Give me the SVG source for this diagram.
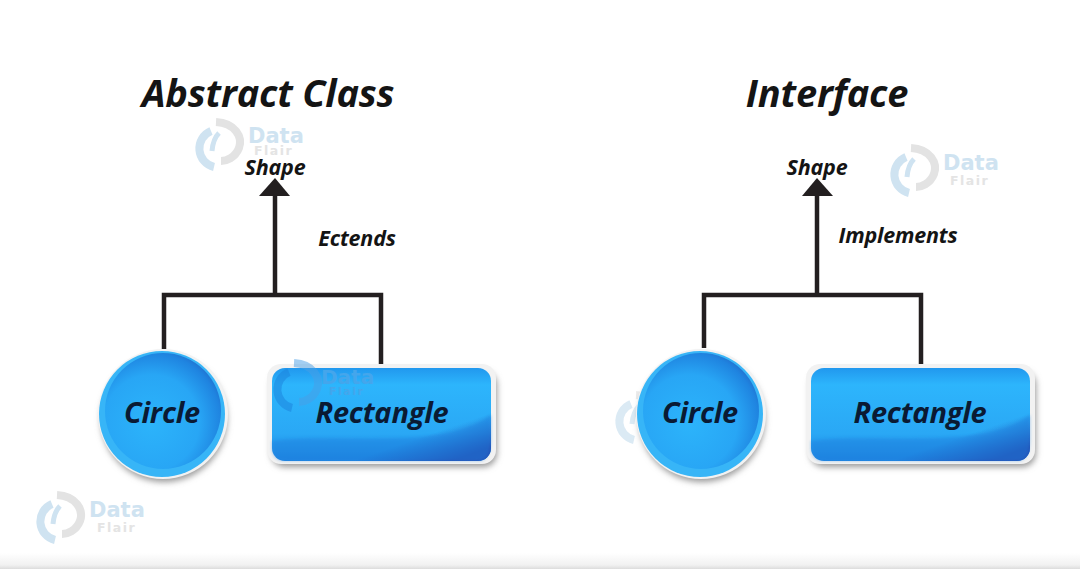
<svg xmlns="http://www.w3.org/2000/svg" width="1080" height="569" viewBox="0 0 1080 569">
<style>
.t{font-family:"Open Sans","Liberation Sans",sans-serif;font-style:italic;font-weight:700;text-anchor:middle;letter-spacing:-.2px}
.h{font-size:38px;fill:#141414}
.s{font-size:21.5px;fill:#141414}
.n{font-size:29px;fill:#0a1a33}
.c{fill:none;stroke:#231f20;stroke-width:4.5}
.wd{font-family:"DejaVu Sans","Liberation Sans",sans-serif;font-weight:700;font-size:21px;fill:#cfe3f1}
.wf{font-family:"DejaVu Sans","Liberation Sans",sans-serif;font-weight:700;font-size:12.5px;letter-spacing:1.5px;fill:#e4e4e4}
.ln{fill:none;stroke-width:8}
</style>
<defs>
<radialGradient id="g" cx=".4" cy=".6" r=".75"><stop offset="0" stop-color="#2cb4fb"/><stop offset=".55" stop-color="#28a6f5"/><stop offset=".8" stop-color="#1f84e0"/><stop offset="1" stop-color="#2452b4"/></radialGradient>
<linearGradient id="gr" x1="0" y1="0" x2="0" y2="1"><stop offset="0" stop-color="#2198ee"/><stop offset=".18" stop-color="#2db5fc"/><stop offset=".7" stop-color="#2aa8f5"/><stop offset="1" stop-color="#1f86e2"/></linearGradient>
<linearGradient id="gd" x1=".55" y1=".3" x2="1" y2=".85"><stop offset=".6" stop-color="#2450b4" stop-opacity="0"/><stop offset="1" stop-color="#2450b4" stop-opacity=".95"/></linearGradient>
<linearGradient id="foot" x1="0" y1="0" x2="0" y2="1"><stop offset="0" stop-color="#fff"/><stop offset=".75" stop-color="#f1f1f1"/><stop offset="1" stop-color="#dcdcdc"/></linearGradient>
<filter id="sh" x="-15%" y="-15%" width="130%" height="135%"><feGaussianBlur stdDeviation="3"/></filter>
<filter id="bl" x="-20%" y="-20%" width="140%" height="140%"><feGaussianBlur stdDeviation="1.5"/></filter>
<g id="logo" class="ln"><path d="M16 14A19 19 0 0 0 19 50" stroke="#cfe3f1"/><path d="M17 34Q18 22 24 16" stroke="#cfe3f1" stroke-width="5"/><path d="M21 5C40 6 48 20 44 31C40 41 31 44 26 44" stroke="#e3e3e3"/></g>
</defs>
<rect width="1080" height="569" fill="#fff"/>
<rect x="0" y="553" width="1080" height="16" fill="url(#foot)"/>

<g id="watermarks">
<g id="wm1"><use href="#logo" transform="translate(195 117)"/><text class="wd" x="248" y="143">Data</text><text class="wf" x="254" y="155">Flair</text></g>
<g id="wm2"><use href="#logo" transform="translate(890 143)"/><text class="wd" x="943" y="170">Data</text><text class="wf" x="950" y="185">Flair</text></g>
<g id="wm3"><use href="#logo" transform="translate(36 490)"/><text class="wd" x="89" y="517">Data</text><text class="wf" x="97" y="532">Flair</text></g>
<use href="#logo" transform="translate(615 390)" opacity=".75"/>
</g>

<text class="t h" x="268" y="107">Abstract Class</text>
<text class="t h" x="827" y="107">Interface</text>

<g id="connectors">
<path class="c" d="M164 349V295H381V364"/><path class="c" d="M275 295V190"/><path d="M259 196L275 178L290 196Z" fill="#231f20"/>
<path class="c" d="M704 348V295H921V364"/><path class="c" d="M817 295V190"/><path d="M802 196L817 178L833 196Z" fill="#231f20"/>
</g>

<g id="shape-left"><text class="t s" x="275" y="175">Shape</text></g>
<g id="extends-label"><text class="t s" x="357" y="246">Ectends</text></g>
<g id="shape-right"><text class="t s" x="817" y="175">Shape</text></g>
<g id="implements-label"><text class="t s" x="898" y="243">Implements</text></g>

<g id="circle-left">
<circle cx="164" cy="419" r="63" fill="#999" filter="url(#sh)"/>
<circle cx="163" cy="414" r="65" fill="#f2f2f2"/>
<circle cx="162" cy="414" r="63" fill="#37b5f7"/>
<circle cx="163" cy="411" r="58" fill="url(#g)"/>
<text class="t n" x="162" y="423">Circle</text>
</g>
<g id="rect-left">
<rect x="271" y="371" width="226" height="96" rx="14" fill="#999" filter="url(#sh)"/>
<rect x="267" y="364" width="229" height="100" rx="14" fill="#f2f2f2"/>
<rect x="272" y="368" width="219" height="93" rx="13" fill="url(#gr)"/>
<rect x="272" y="368" width="219" height="93" rx="13" fill="url(#gd)"/>
<path d="M272 441C340 432 440 452 491 415V437Q491 461 478 461H285Q272 461 272 447Z" fill="#1f7cdc" opacity=".4" filter="url(#bl)"/>
<g opacity=".5"><path d="M289 372A19 19 0 0 0 292 408" fill="none" stroke="#1c82dc" stroke-width="8"/><path d="M294 363C313 364 321 378 317 389C313 399 304 402 299 402" fill="none" stroke="#4a9fe6" stroke-width="8"/></g>
<text x="321" y="384" style="font-family:'DejaVu Sans',sans-serif;font-weight:700;font-size:20px;fill:#44a6ec">Data</text>
<text x="329" y="395" style="font-family:'DejaVu Sans',sans-serif;font-weight:700;font-size:11px;letter-spacing:1.5px;fill:#44a6ec">Flair</text>
<text class="t n" x="382" y="423">Rectangle</text>
</g>
<g id="circle-right">
<circle cx="702" cy="419" r="63" fill="#999" filter="url(#sh)"/>
<circle cx="701" cy="414" r="65" fill="#f2f2f2"/>
<circle cx="700" cy="414" r="63" fill="#37b5f7"/>
<circle cx="701" cy="411" r="58" fill="url(#g)"/>
<text class="t n" x="700" y="423">Circle</text>
</g>
<g id="rect-right">
<rect x="810" y="371" width="226" height="96" rx="14" fill="#999" filter="url(#sh)"/>
<rect x="806" y="364" width="229" height="100" rx="14" fill="#f2f2f2"/>
<rect x="811" y="368" width="219" height="93" rx="13" fill="url(#gr)"/>
<rect x="811" y="368" width="219" height="93" rx="13" fill="url(#gd)"/>
<path d="M811 441C879 432 979 452 1030 415V437Q1030 461 1017 461H824Q811 461 811 447Z" fill="#1f7cdc" opacity=".4" filter="url(#bl)"/>
<text class="t n" x="920" y="423">Rectangle</text>
</g>
</svg>
